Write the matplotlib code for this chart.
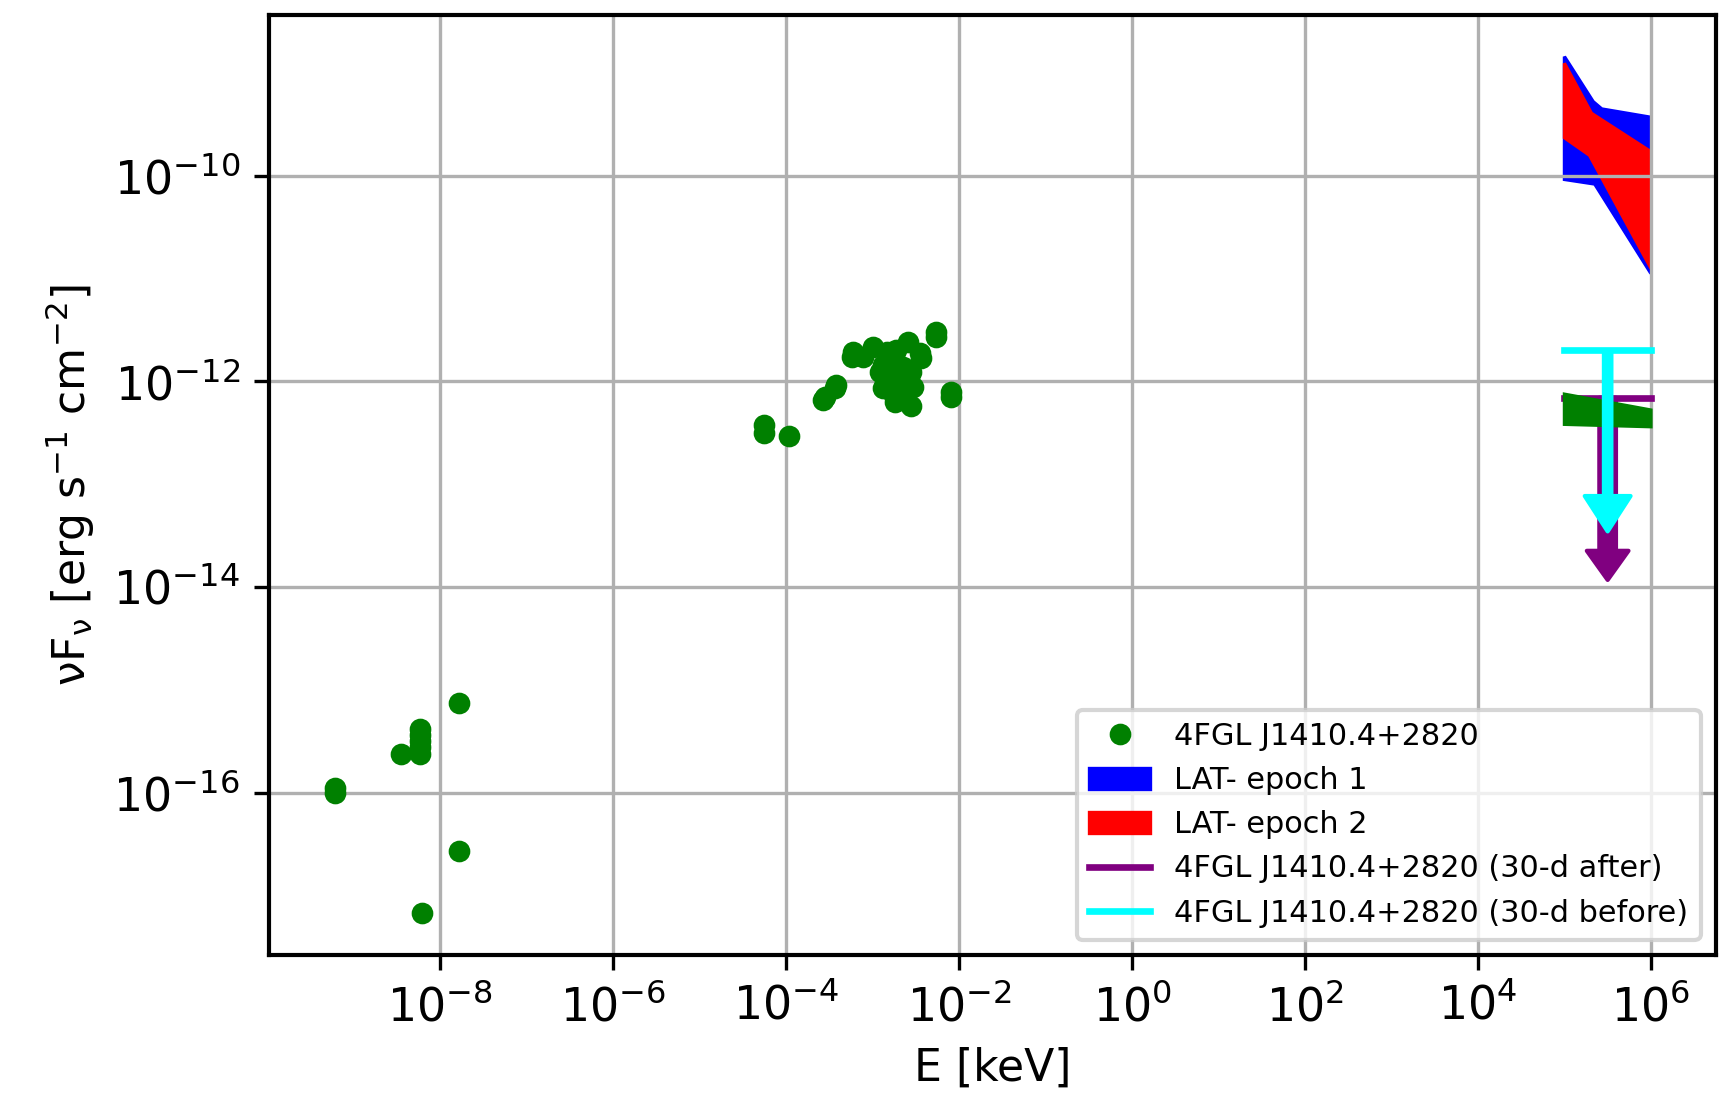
import numpy as np
import matplotlib
matplotlib.use('Agg')
import matplotlib.pyplot as plt

# SED data points (E in keV, nuFnu in erg/s/cm2)
sed_E = [1.66e-8, 5.9e-9, 5.9e-9, 5.9e-9, 5.9e-9, 5.9e-9, 3.47e-9, 6.0e-10, 6.0e-10, 1.66e-8, 6.2e-9,
         5.6e-5, 5.6e-5, 1.07e-4, 2.66e-4, 2.79e-4, 3.63e-4, 3.8e-4, 5.7e-4, 5.9e-4, 7.8e-4,
         1.0e-3, 1.45e-3, 2.56e-3, 3.5e-3, 3.66e-3, 1.32e-3, 1.72e-3, 2.24e-3, 2.8e-3, 1.45e-3,
         2.04e-3, 2.92e-3, 1.32e-3, 1.72e-3, 2.45e-3, 1.8e-3, 2.8e-3, 1.88e-3, 1.2e-3,
         5.35e-3, 5.35e-3, 8.1e-3, 8.1e-3]
sed_F = [7.4e-16, 4.2e-16, 3.6e-16, 3.2e-16, 2.8e-16, 2.4e-16, 2.35e-16, 1.1e-16, 1.0e-16, 2.7e-17, 6.8e-18,
         3.77e-13, 3.13e-13, 2.94e-13, 6.6e-13, 7.1e-13, 8.6e-13, 9.2e-13, 1.74e-12, 1.94e-12, 1.74e-12,
         2.17e-12, 1.95e-12, 2.43e-12, 1.87e-12, 1.67e-12, 1.45e-12, 1.5e-12, 1.39e-12, 1.24e-12, 1.11e-12,
         1.03e-12, 8.9e-13, 8.6e-13, 7.7e-13, 8.9e-13, 6.3e-13, 5.7e-13, 2.02e-12, 1.24e-12,
         3.0e-12, 2.7e-12, 7.9e-13, 7.1e-13]

# LAT butterflies (upper / lower edges)
ep1_up_E = [1e5, 2.15e5, 2.7e5, 1e6]
ep1_up_F = [1.44e-9, 5.25e-10, 4.46e-10, 3.7e-10]
ep1_lo_E = [1e5, 2.24e5, 1e6]
ep1_lo_F = [9.2e-11, 8.3e-11, 1.12e-11]

ep2_up_E = [1e5, 2.05e5, 1e6]
ep2_up_F = [1.24e-9, 4.05e-10, 1.71e-10]
ep2_lo_E = [1e5, 1.95e5, 1e6]
ep2_lo_F = [2.34e-10, 1.58e-10, 1.26e-11]

fgl_E = [1e5, 1e6]
fgl_up = [7.5e-13, 5.26e-13]
fgl_lo = [3.82e-13, 3.62e-13]

# 30-day upper limits
ul_E = [1e5, 1e6]
ul_center = 3.16e5
ul_after = 6.93e-13
ul_after_tip = 1.17e-14
ul_before = 2.0e-12
ul_before_tip = 3.47e-14

fig = plt.figure(figsize=(17.27 / 3, 10.96 / 3), dpi=300)
ax = fig.add_axes([0.1558, 0.1286, 0.8377, 0.8577])

pts, = ax.plot(sed_E, sed_F, 'o', color='green', markersize=4.2,
               label='4FGL J1410.4+2820')

p1 = ax.fill(np.concatenate([ep1_up_E, ep1_lo_E[::-1]]),
             np.concatenate([ep1_up_F, ep1_lo_F[::-1]]),
             color='blue', lw=0.8, label='LAT- epoch 1')[0]
p2 = ax.fill(np.concatenate([ep2_up_E, ep2_lo_E[::-1]]),
             np.concatenate([ep2_up_F, ep2_lo_F[::-1]]),
             color='red', lw=0.8, label='LAT- epoch 2')[0]

# 30-d after
la, = ax.plot(ul_E, [ul_after, ul_after], color='purple', lw=1.6, zorder=2,
              label='4FGL J1410.4+2820 (30-d after)')
ax.annotate('', xy=(ul_center, ul_after_tip), xytext=(ul_center, ul_after),
            arrowprops=dict(facecolor='purple', edgecolor='purple', width=4.0,
                            headwidth=10, headlength=7, shrink=0), zorder=2)

ax.fill(np.concatenate([fgl_E, fgl_E[::-1]]),
        np.concatenate([fgl_up, fgl_lo[::-1]]),
        color='green', lw=0.8, zorder=2.5)

# 30-d before
lb, = ax.plot(ul_E, [ul_before, ul_before], color='cyan', lw=1.6, zorder=3,
              label='4FGL J1410.4+2820 (30-d before)')
ax.annotate('', xy=(ul_center, ul_before_tip), xytext=(ul_center, ul_before),
            arrowprops=dict(facecolor='cyan', edgecolor='cyan', width=1.8,
                            headwidth=11, headlength=8.5, shrink=0), zorder=3)

ax.set_xscale('log')
ax.set_yscale('log')
ax.set_xlim(10**-9.98, 10**6.75)
ax.set_ylim(10**-17.58, 10**-8.437)
ax.set_xticks([10.0**k for k in range(-8, 7, 2)])
ax.set_yticks([10.0**k for k in range(-16, -9, 2)])
ax.minorticks_off()
ax.tick_params(labelsize=11)
for s in ax.spines.values():
    s.set_linewidth(1.0)

ax.set_xlabel('E [keV]', fontsize=10.6)
ax.set_ylabel(r'$\mathrm{\nu F_{\nu}}$ [erg s$^{-1}$ cm$^{-2}$]', fontsize=10.6)
ax.grid(True)

ax.legend(handles=[pts, p1, p2, la, lb], loc='lower right', fontsize=7.3)

fig.savefig('out.png', dpi=300)
